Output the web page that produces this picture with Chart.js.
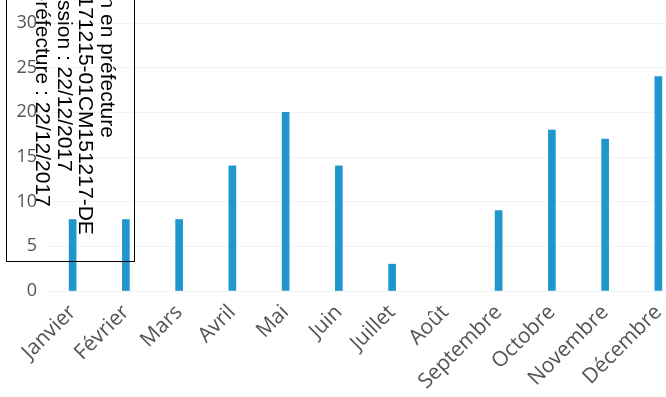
<!DOCTYPE html>
<html lang="fr">
<head>
<meta charset="utf-8">
<title>Répartition mensuelle</title>
<script src="https://cdn.jsdelivr.net/npm/chart.js@4.4.1/dist/chart.umd.min.js"></script>
<style>
  html, body { margin: 0; padding: 0; background: #fff; overflow: hidden; width: 666px; height: 397px; }
  #wrap { position: relative; width: 666px; height: 397px; overflow: hidden; }
  #c { position: absolute; left: 0; top: 0; }
  /* transmission stamp laid over the top-left corner */
  #stamp { position: absolute; left: 6px; top: -10px; width: 129px; height: 272px;
           border: 1px solid #000; box-sizing: border-box; }
  #stampText { position: absolute; left: 118.5px; top: -182px; transform-origin: 0 0;
               transform: rotate(90deg); font-family: "Liberation Sans", Arial, sans-serif;
               font-size: 21px; line-height: 21.5px; white-space: nowrap; color: #000; }
</style>
</head>
<body>
<div id="wrap">
  <canvas id="c" width="686" height="397"></canvas>
  <div id="stamp"></div>
  <div id="stampText">Accusé de réception en préfecture<br>033-213300000-20171215-01CM151217-DE<br>Date de télétransmission : 22/12/2017<br>Date de réception préfecture : 22/12/2017</div>
</div>
<script>
// Monthly counts
const months = ['Janvier', 'Février', 'Mars', 'Avril', 'Mai', 'Juin', 'Juillet', 'Août',
                'Septembre', 'Octobre', 'Novembre', 'Décembre'];
const counts = [8, 8, 8, 14, 20, 14, 3, 0, 9, 18, 17, 24];
const yMin = 0;
const yMax = 30;
const yStep = 5;

const labelColor = '#545454';

function draw() {
  new Chart(document.getElementById('c'), {
    type: 'bar',
    data: {
      labels: months,
      datasets: [{
        data: counts,
        // an empty month gets no sliver of colour at the baseline
        backgroundColor: ctx => (ctx.raw === 0 ? 'rgba(0,0,0,0)' : '#1f97cd'),
        barThickness: 7
      }]
    },
    options: {
      responsive: false,
      animation: false,
      layout: { padding: { top: 23, right: 1, left: 0, bottom: 0 } },
      plugins: { legend: { display: false }, tooltip: { enabled: false } },
      scales: {
        x: {
          grid: { display: false, drawTicks: false },
          border: { display: false },
          ticks: {
            color: labelColor, font: { family: '"Open Sans", sans-serif', size: 21 },
            autoSkip: false, minRotation: 45, maxRotation: 45, padding: 9
          },
          afterFit(scale) { scale.height = 106; }
        },
        y: {
          min: yMin, max: yMax,
          grid: { color: '#f3f3f3', drawTicks: false },
          border: { display: false },
          ticks: {
            stepSize: yStep, color: labelColor,
            font: { family: '"Open Sans", sans-serif', size: 18 }, padding: 9
          },
          afterFit(scale) { scale.width = 46; }
        }
      }
    }
  });
}

if (document.fonts && document.fonts.load) {
  Promise.all([
    document.fonts.load('18px "Open Sans"'),
    document.fonts.load('21px "Open Sans"')
  ]).then(draw, draw);
} else {
  draw();
}
</script>
</body>
</html>
